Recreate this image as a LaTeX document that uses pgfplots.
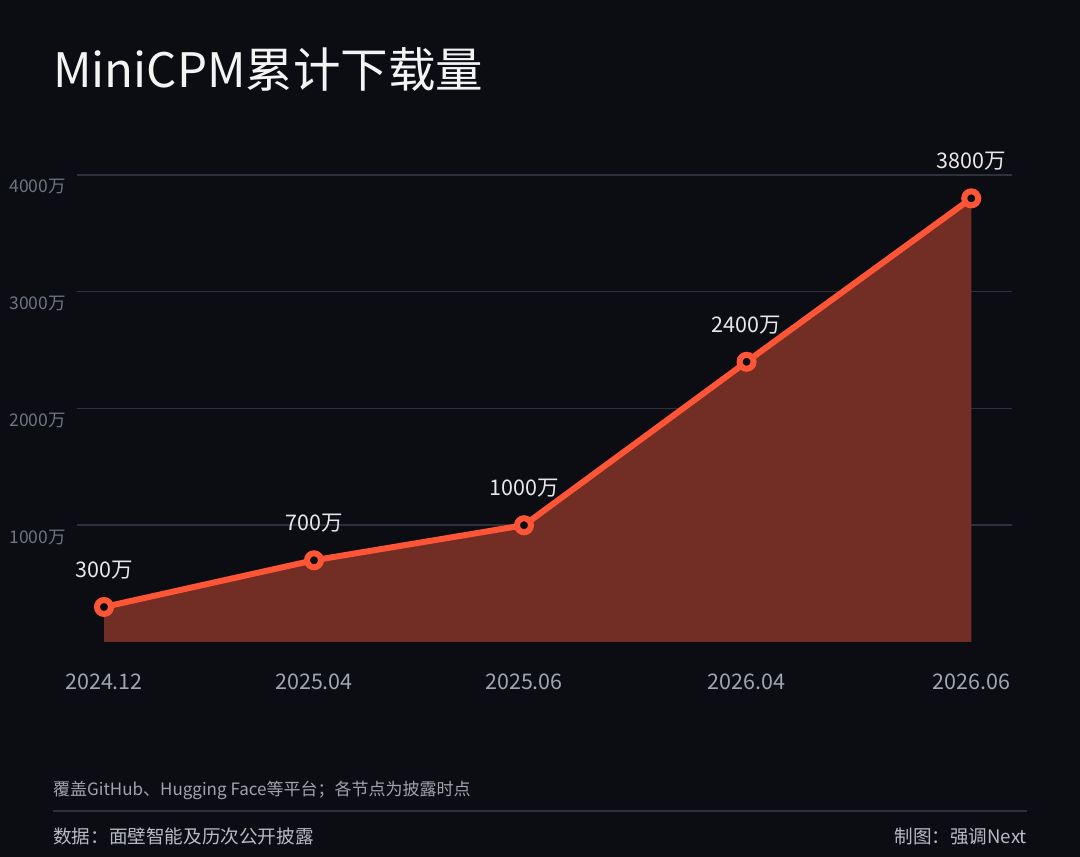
\documentclass[border=0pt]{standalone}
\usepackage{pgfplots}
\pgfplotsset{compat=1.18}
\usepackage{fontspec}
\setmainfont{Noto Sans CJK SC}
\definecolor{bgc}{HTML}{0C0D12}
\definecolor{gridc}{HTML}{2D313B}
\definecolor{fillc}{HTML}{722E24}
\definecolor{linec}{HTML}{FF5537}
\definecolor{titlec}{HTML}{F4F4F5}
\definecolor{ytc}{HTML}{6E7480}
\definecolor{xtc}{HTML}{A1A5AD}
\definecolor{labc}{HTML}{E8E8EA}
\definecolor{notec}{HTML}{A0A3AA}
\definecolor{footc}{HTML}{B8BBC2}
\pgfplotstableread{
x y lab
0 300 300万
1 700 700万
2 1000 1000万
3.06 2400 2400万
4.13 3800 3800万
}\downloads
\begin{document}
\begin{tikzpicture}
\path[use as bounding box, fill=bgc] (0bp,0bp) rectangle (1080bp,857bp);
\node[anchor=base west, inner sep=0pt, font=\fontsize{47.5bp}{50bp}\selectfont, text=titlec] at (53bp,769bp) {MiniCPM累计下载量};
\begin{axis}[
  at={(77bp,215bp)}, anchor=south west, scale only axis,
  width=935bp, height=467bp,
  xmin=-0.1286, xmax=4.324, ymin=0, ymax=4000,
  clip=false,
  axis line style={draw=none}, tick style={draw=none},
  /pgf/number format/assume math mode=true,
  ytick={1000,2000,3000,4000},
  yticklabels={1000万,2000万,3000万,4000万},
  xtick={0,1,2,3.06,4.13},
  xticklabels={2024.12,2025.04,2025.06,2026.04,2026.06},
  ymajorgrids, grid style={color=gridc, line width=1.5bp},
  yticklabel style={anchor=east, inner sep=0pt, xshift=-11bp, yshift=-12bp, text=ytc, font=\fontsize{17.5bp}{19bp}\selectfont},
  xticklabel style={anchor=center, inner sep=0pt, yshift=-40bp, text=xtc, font=\fontsize{21.5bp}{24bp}\selectfont},
]
\addplot[fill=fillc, draw=none] table[x=x, y=y] {\downloads} \closedcycle;
\addplot[color=linec, line width=6bp, mark=*, mark size=7bp,
  mark options={fill=bgc, draw=linec, line width=6bp},
  point meta=explicit symbolic,
  nodes near coords,
  nodes near coords style={anchor=center, yshift=37bp, inner sep=0pt, text=labc, font=\fontsize{21.5bp}{24bp}\selectfont}]
  table[x=x, y=y, meta=lab] {\downloads};
\end{axis}
\node[anchor=base west, inner sep=0pt, font=\fontsize{17bp}{19bp}\selectfont, text=notec] at (53bp,61bp) {覆盖GitHub、Hugging Face等平台；各节点为披露时点};
\draw[gridc, line width=1.5bp] (53bp,46bp) -- (1027bp,46bp);
\node[anchor=base west, inner sep=0pt, font=\fontsize{18.6bp}{20bp}\selectfont, text=footc] at (53bp,14bp) {数据：面壁智能及历次公开披露};
\node[anchor=base east, inner sep=0pt, font=\fontsize{18.6bp}{20bp}\selectfont, text=footc] at (1027bp,14bp) {制图：强调Next};
\end{tikzpicture}
\end{document}
